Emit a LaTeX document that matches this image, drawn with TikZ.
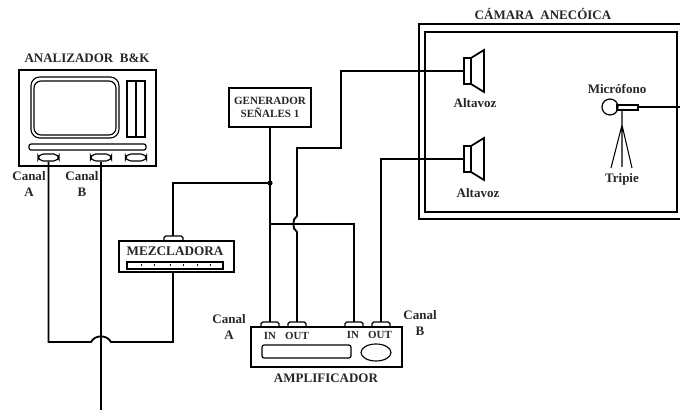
\documentclass[tikz,border=0pt]{standalone}
\usepackage{fontspec}
\setmainfont{Liberation Serif}
\usetikzlibrary{positioning,calc}
\tikzset{
  wire/.style={line width=1.05pt},
  thinbox/.style={draw,line width=0.65pt,rounded corners=1.2pt},
  knob/.style={draw,line width=0.65pt,rounded corners=3pt,minimum width=0.42cm,minimum height=0.14cm,inner sep=0pt},
  lab/.style={font=\fontsize{7.4pt}{8.6pt}\selectfont\bfseries,align=center,inner sep=0pt,text=black!85},
  lablow/.style={lab,font=\fontsize{6.2pt}{7.6pt}\selectfont\bfseries},
}
\begin{document}
\begin{tikzpicture}[x=0.02cm,y=-0.02cm]
  \useasboundingbox (0,0) rectangle (680,411);
  % Analizador
  \draw[line width=1.1pt] (19,70) rectangle (156,166);
  \draw[thinbox,rounded corners=5pt] (31,77) rectangle (119,138);
  \draw[thinbox,rounded corners=4pt] (34,81) rectangle (116,135);
  \draw[line width=0.65pt] (127,81) rectangle (145,137) (136,81) -- (136,137);
  \draw[thinbox] (29,144) rectangle (146,150);
  \node[knob] (canalA) at (48.5,157.5) {};
  \node[knob] (canalB) at (101,157.5) {};
  \node[knob] (canalC) at (136,157.5) {};
  \node[lab] at (87,58) {ANALIZADOR\hspace{0.5em}B\&K};
  \node[lab] at (29,184) {Canal\\A};
  \node[lab] at (82,184) {Canal\\B};
  % Mezcladora
  \node[draw,line width=1pt,minimum width=2.3cm,minimum height=0.62cm,inner sep=0pt] (mezcla) at (176.5,256.5) {};
  \node[font=\fontsize{7.5pt}{9pt}\selectfont\bfseries,inner sep=0pt,text=black!85] at (175,251) {MEZCLADORA};
  \draw[line width=0.75pt] (127,262) rectangle (223,269);
  \foreach \xtick in {141,154,170,183,197,210}
    \draw[line width=0.5pt] (\xtick,264.5) -- (\xtick,266);
  \draw[line width=0.8pt,rounded corners=1pt] (164,241) -- (164,236) -- (183,236) -- (183,241);
  % Generador
  \node[draw,line width=1pt,minimum width=1.64cm,minimum height=0.78cm,lablow,font=\fontsize{6.3pt}{7.4pt}\selectfont\bfseries] (gen) at (270,107.5) {GENERADOR\\SEÑALES 1};
  \fill (270,183) coordinate (nudo) circle (2.6);
  % Amplificador
  \node[draw,line width=1.1pt,minimum width=3.02cm,minimum height=0.8cm,inner sep=0pt] (ampli) at (326.5,347) {};
  \foreach \xin/\nom in {270/inA,297/outA,354/inB,381/outB}{
    \draw[line width=0.8pt,rounded corners=1pt] (\xin-9,327) -- (\xin-9,322) -- (\xin+9,322) -- (\xin+9,327);
    \coordinate (\nom) at (\xin,322);
  }
  \draw[thinbox] (262,345) rectangle (351,358);
  \draw[line width=0.65pt] (376,352.5) ellipse (15 and 8.5);
  \node[lablow] at (270,335.5) {IN};
  \node[lablow] at (297,336) {OUT};
  \node[lablow] at (353,335) {IN};
  \node[lablow] at (380,335) {OUT};
  \node[lab] at (229,327) {Canal\\A};
  \node[lab] at (420,323) {Canal\\B};
  \node[lab] at (326,378) {AMPLIFICADOR};
  % Camara
  \draw[line width=1.2pt] (680,24) -- (419,24) -- (419,219) -- (680,219);
  \draw[line width=1.1pt] (677,32) -- (425,32) -- (425,212) -- (677,212) -- cycle;
  \node[lab] at (543,14) {CÁMARA\hspace{0.5em}ANECÓICA};
  % Altavoces
  \foreach \yspk/\nom in {71/spkA,159/spkB}{
    \draw[line width=1pt] (464,\yspk-13) rectangle (471,\yspk+13);
    \draw[line width=1pt] (471,\yspk-13) -- (484,\yspk-21) -- (484,\yspk+21) -- (471,\yspk+13);
    \coordinate (\nom) at (464,\yspk);
  }
  \node[lab] at (475,103) {Altavoz};
  \node[lab] at (478,193) {Altavoz};
  % Microfono
  \draw[line width=0.7pt] (610,107) circle (8);
  \draw[line width=0.8pt] (617,105) rectangle (638,110);
  \draw[line width=0.6pt] (622,110) -- (622,167) (622,125) -- (611,168) (622,125) -- (632,168);
  \coordinate (micro) at (638,107);
  \node[lab] at (617,89) {Micrófono};
  \node[lab] at (622,179) {Tripie};
  % Cables
  \draw[wire] (canalA.south) -- (48.5,342) -- (91,342) .. controls (95,334.5) and (107,334.5) .. (111,342) -- (173,342) -- (mezcla.south -| 173,0);
  \draw[wire] (canalB.south) -- (101,410);
  \draw[wire] (173,236) -- (173,183) -- (nudo);
  \draw[wire] (gen.south) -- (inA);
  \draw[wire] (270,224) -- (354,224) -- (inB);
  \draw[wire] (outA) -- (297,232) .. controls (292,229) and (292,219) .. (297,216) -- (297,148) -- (341,148) -- (341,71) -- (spkA);
  \draw[wire] (outB) -- (381,159) -- (spkB);
  \draw[wire] (micro) -- (680,107);
\end{tikzpicture}
\end{document}
